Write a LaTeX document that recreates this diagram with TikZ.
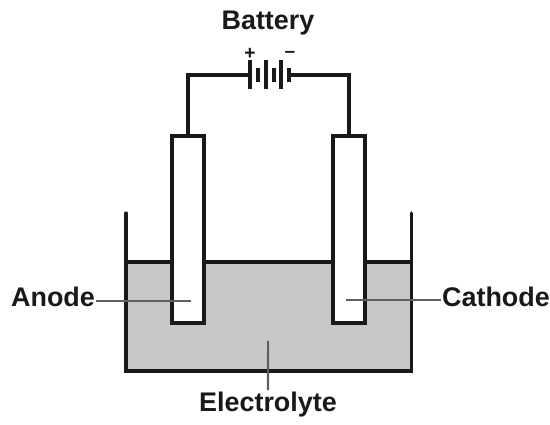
\documentclass[tikz,border=0pt]{standalone}
\usepackage{fontspec}
\setmainfont{Liberation Sans}
\usepackage{tkz-euclide}
\definecolor{electrolyte}{RGB}{200,200,200}
\definecolor{inkblack}{RGB}{25,25,25}
\definecolor{leadergray}{RGB}{95,95,95}
\tikzset{
    wire/.style={line width=3pt,color=inkblack,line cap=round,line join=miter},
    leader/.style={line width=2pt,color=leadergray},
    caption/.style={font=\fontsize{26.8}{27}\selectfont\bfseries,color=inkblack,inner sep=0pt},
    polarity/.style={font=\fontsize{19}{19}\selectfont\bfseries,color=inkblack,inner sep=0pt},
    electrode/.style={draw=inkblack,fill=white,line width=3pt,minimum width=.35*3.2cm,minimum height=.35*18.7cm,anchor=south west,inner sep=0pt,outer sep=0pt}
}
\begin{document}
\begin{tikzpicture}[scale=.35]
        \useasboundingbox (0,0) rectangle (55,42.4);
        % tank
        \tkzDefPoint(12.6,21.1){TankTL}
        \tkzDefPoint(12.6,5.3){TankBL}
        \tkzDefPoint(41.1,5.3){TankBR}
        \tkzDefPoint(41.1,21.1){TankTR}
        \tkzDefPoint(12.6,16.2){LiquidL}
        \tkzDefPoint(41.1,16.2){LiquidR}
        \tkzFillPolygon[fill=electrolyte](LiquidL,TankBL,TankBR,LiquidR)
        \tkzDrawSegments[wire](LiquidL,LiquidR)
        \draw[wire] (TankTL) -- (TankBL) -- (TankBR) -- (TankTR);
        % electrodes
        \begin{scope}[shift={(17.2,10.1)}]
            \node[electrode] (AnodeBar) at (0,0) {};
        \end{scope}
        \begin{scope}[shift={(33.3,10.1)}]
            \node[electrode] (CathodeBar) at (0,0) {};
        \end{scope}
        % battery
        \tkzDefPoint(25,34.9){PlusEnd}
        \tkzDefPoint(28.9,34.9){MinusEnd}
        \draw[wire] (AnodeBar.north) |- (PlusEnd);
        \draw[wire] (CathodeBar.north) |- (MinusEnd);
        \foreach \x/\h in {25/1.45,25.8/.7,26.6/1.45,27.4/.7,28.1/1.45,28.9/.7}
            \draw[wire,line cap=butt] (\x,34.9-\h) -- (\x,34.9+\h);
        % labels
        \node[caption] (BatteryLabel) at (26.8,40.1) {Battery};
        \node[polarity] (PlusLabel) at (25,37) {+};
        \node[polarity] (MinusLabel) at (29,37) {--};
        \node[caption] (AnodeLabel) at (5.3,12.7) {Anode};
        \node[caption] (CathodeLabel) at (49.6,12.7) {Cathode};
        \node[caption] (ElectrolyteLabel) at (26.8,1.9) {Electrolyte};
        % leaders
        \tkzDefPoint(19.1,12.3){AnodeTip}
        \tkzDefPoint(34.6,12.4){CathodeTip}
        \tkzDefPoint(26.8,8.3){ElectrolyteTip}
        \draw[leader] ([xshift=4pt]AnodeLabel.east |- AnodeTip) -- (AnodeTip);
        \draw[leader] ([xshift=-3pt]CathodeLabel.west |- CathodeTip) -- (CathodeTip);
        \draw[leader] ([yshift=6pt]ElectrolyteLabel.north) -- (ElectrolyteTip);
    \end{tikzpicture}
\end{document}
